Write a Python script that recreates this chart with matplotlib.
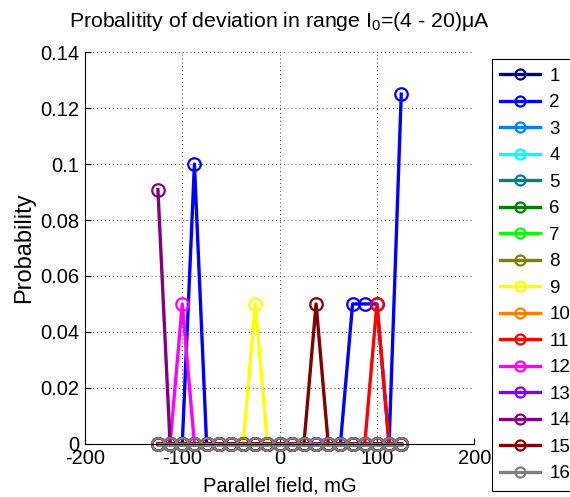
#!/usr/bin/env python3

import matplotlib
matplotlib.use('Agg')
import matplotlib.pyplot as plt

plt.rcParams['font.family'] = ['Liberation Sans', 'DejaVu Sans']
plt.rcParams['mathtext.fontset'] = 'custom'
plt.rcParams['mathtext.rm'] = 'Liberation Sans'
plt.rcParams['axes.unicode_minus'] = False

# Parallel field grid, mG
field = [-125, -112.5, -100, -87.5, -75, -62.5, -50, -37.5, -25, -12.5, 0,
         12.5, 25, 37.5, 50, 62.5, 75, 87.5, 100, 112.5, 125]

zeros = [0] * len(field)

# probability per series (only a few have non-zero values)
p2 = [0, 0, 0, 0.1, 0, 0, 0, 0, 0, 0, 0,
      0, 0, 0, 0, 0, 0.05, 0.05, 0.05, 0, 0.125]
p9 = [0, 0, 0, 0, 0, 0, 0, 0, 0.05, 0, 0,
      0, 0, 0, 0, 0, 0, 0, 0, 0, 0]
p11 = [0, 0, 0, 0, 0, 0, 0, 0, 0, 0, 0,
       0, 0, 0, 0, 0, 0, 0, 0.05, 0, 0]
p12 = [0, 0, 0.05, 0, 0, 0, 0, 0, 0, 0, 0,
       0, 0, 0, 0, 0, 0, 0, 0, 0, 0]
p14 = [0.0909, 0, 0, 0, 0, 0, 0, 0, 0, 0, 0,
       0, 0, 0, 0, 0, 0, 0, 0, 0, 0]
p15 = [0, 0, 0, 0, 0, 0, 0, 0, 0, 0, 0,
       0, 0, 0.05, 0, 0, 0, 0, 0, 0, 0]

series = [zeros, p2, zeros, zeros, zeros, zeros, zeros, zeros,
          p9, zeros, p11, p12, zeros, p14, p15, zeros]
labels = [str(i) for i in range(1, 17)]
colors = [(0, 0, 0.5), (0, 0, 1), (0, 0.5, 1), (0, 1, 1),
          (0, 0.5, 0.5), (0, 0.5, 0), (0, 1, 0), (0.5, 0.5, 0),
          (1, 1, 0), (1, 0.5, 0), (1, 0, 0), (1, 0, 1),
          (0.5, 0, 1), (0.5, 0, 0.5), (0.5, 0, 0), (0.5, 0.5, 0.5)]


def main():
    fig = plt.figure(figsize=(5.7, 4.97), dpi=100)
    ax = fig.add_axes([0.149, 0.107, 0.683, 0.788])

    for vals, lab, col in zip(series, labels, colors):
        ax.plot(field, vals, '-o', color=col, lw=2.4, ms=9, mew=1.6,
                mfc='none', label=lab, clip_on=False)

    ax.set_xlim(-200, 200)
    ax.set_ylim(0, 0.14)
    ax.set_xticks([-200, -100, 0, 100, 200])
    ax.set_yticks([0, 0.02, 0.04, 0.06, 0.08, 0.1, 0.12, 0.14])
    ax.set_yticklabels(['0', '0.02', '0.04', '0.06', '0.08', '0.1', '0.12', '0.14'])
    ax.tick_params(direction='in', length=4, labelsize=14.5, pad=4)
    ax.grid(True, color='0.25', linestyle=(0, (1, 3)), linewidth=0.7)
    ax.spines['top'].set_visible(False)
    ax.spines['right'].set_visible(False)

    ax.set_xlabel('Parallel field, mG', fontsize=14.5, labelpad=6)
    ax.set_ylabel('Probability', fontsize=17, labelpad=4)
    ax.set_title(r'Probalitity of deviation in range I$_\mathregular{0}$=(4 - 20)μA',
                 fontsize=15.3, pad=18)

    leg = ax.legend(loc='upper left', bbox_to_anchor=(492 / 570, 1 - 59 / 497),
                    bbox_transform=fig.transFigure, fontsize=13.5,
                    fancybox=False, edgecolor='black', framealpha=1,
                    handlelength=2.1, labelspacing=0.5, borderpad=0.45,
                    handletextpad=0.5, borderaxespad=0, markerscale=0.8)
    leg.get_frame().set_linewidth(0.8)

    fig.savefig('out.png', dpi=100)


if __name__ == "__main__":
    main()
